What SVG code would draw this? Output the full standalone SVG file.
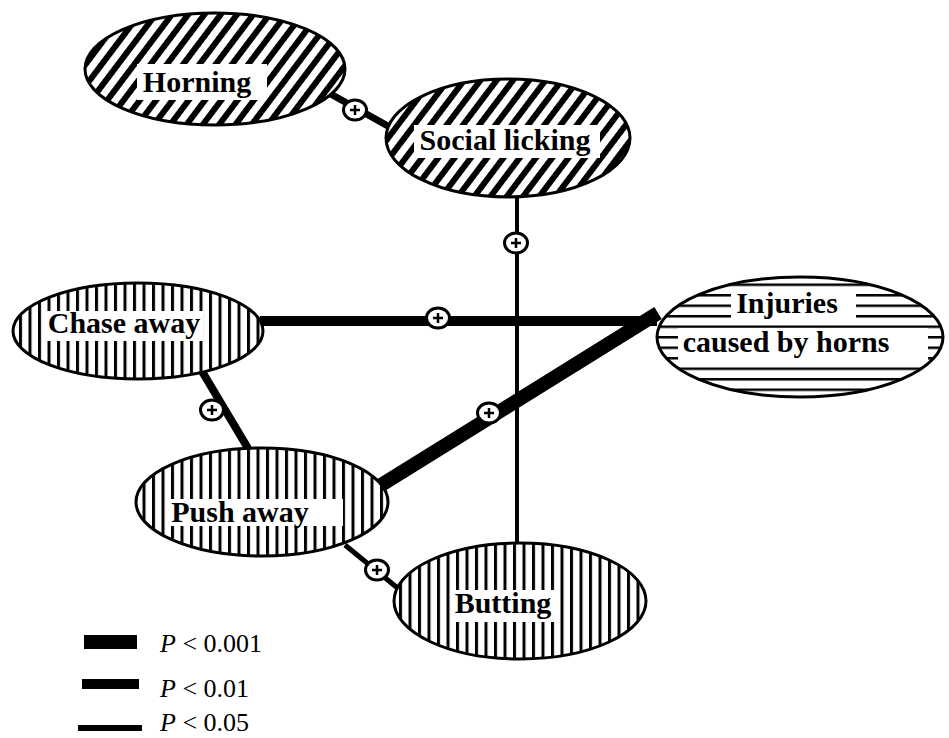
<svg xmlns="http://www.w3.org/2000/svg" width="949" height="738" viewBox="0 0 949 738">
<style>
.node{stroke:#000;stroke-width:3}
.lbl{font-family:"Liberation Serif","Times New Roman",serif;font-weight:bold;font-size:30px;fill:#000;text-anchor:middle}
.leg{font-family:"Liberation Serif","Times New Roman",serif;font-size:26px;fill:#000}
.conn{stroke:#000;stroke-linecap:butt;fill:none}
</style>
<defs>
<pattern id="diag" patternUnits="userSpaceOnUse" width="13" height="13" patternTransform="rotate(37)">
<rect width="13" height="13" fill="#fff"/><rect x="0" y="0" width="6" height="13" fill="#000"/>
</pattern>
<pattern id="vert" patternUnits="userSpaceOnUse" width="9.5" height="10">
<rect width="9.5" height="10" fill="#fff"/><rect x="0" y="0" width="3" height="10" fill="#000"/>
</pattern>
<pattern id="horiz" patternUnits="userSpaceOnUse" width="10" height="10.5">
<rect width="10" height="10.5" fill="#fff"/><rect x="0" y="0" width="10" height="2.5" fill="#000"/>
</pattern>
<g id="plus">
<ellipse cx="0" cy="0" rx="11.5" ry="10" fill="#fff" stroke="#000" stroke-width="3"/>
<path d="M-5 0H5M0 -5V5" stroke="#000" stroke-width="2.5" fill="none"/>
</g>
</defs>
<rect width="949" height="738" fill="#fff"/>
<g id="connectors">
<line class="conn" x1="320" y1="88" x2="395" y2="130" stroke-width="7"/>
<line class="conn" x1="517" y1="195" x2="517" y2="545" stroke-width="4"/>
<line class="conn" x1="260" y1="321" x2="657" y2="321" stroke-width="10"/>
<line class="conn" x1="200" y1="368" x2="252" y2="455" stroke-width="8"/>
<line class="conn" x1="365" y1="495" x2="658" y2="313" stroke-width="14"/>
<line class="conn" x1="345" y1="545" x2="400" y2="590" stroke-width="5"/>
</g>
<g id="horning">
<ellipse class="node" cx="215" cy="69" rx="130" ry="56" fill="url(#diag)"/>
<rect x="137" y="64" width="130" height="36" fill="#fff"/>
<text class="lbl" x="197" y="92">Horning</text>
</g>
<g id="social-licking">
<ellipse class="node" cx="508" cy="138" rx="122" ry="59" fill="url(#diag)"/>
<rect x="414" y="125" width="186" height="33" fill="#fff"/>
<text class="lbl" x="505" y="150">Social licking</text>
</g>
<g id="chase-away">
<ellipse class="node" cx="138" cy="331" rx="125" ry="48" fill="url(#vert)"/>
<rect x="45" y="311" width="158" height="30" fill="#fff"/>
<text class="lbl" x="124" y="333">Chase away</text>
</g>
<g id="injuries">
<ellipse class="node" cx="800" cy="337" rx="143" ry="60" fill="url(#horiz)"/>
<rect x="731" y="291" width="125" height="27" fill="#fff"/>
<rect x="678" y="328" width="250" height="33" fill="#fff"/>
<text class="lbl" x="787" y="313">Injuries</text>
<text class="lbl" x="786" y="352">caused by horns</text>
</g>
<g id="push-away">
<ellipse class="node" cx="262" cy="502" rx="126" ry="54" fill="url(#vert)"/>
<rect x="167" y="499" width="176" height="27" fill="#fff"/>
<text class="lbl" x="240" y="522">Push away</text>
</g>
<g id="butting">
<ellipse class="node" cx="520" cy="601" rx="126" ry="58" fill="url(#vert)"/>
<rect x="454" y="590" width="104" height="32" fill="#fff"/>
<text class="lbl" x="503" y="613">Butting</text>
</g>
<g id="signs">
<use href="#plus" x="355" y="110"/>
<use href="#plus" x="516" y="243"/>
<use href="#plus" x="438" y="318"/>
<use href="#plus" x="212" y="410"/>
<use href="#plus" x="489" y="413"/>
<use href="#plus" x="377" y="570"/>
</g>
<g id="legend">
<rect x="84" y="635" width="53" height="14" fill="#000"/>
<rect x="82" y="679" width="57" height="10" fill="#000"/>
<rect x="78" y="725" width="64" height="6" fill="#000"/>
<text class="leg" x="160" y="652"><tspan font-style="italic">P</tspan> &lt; 0.001</text>
<text class="leg" x="160" y="697"><tspan font-style="italic">P</tspan> &lt; 0.01</text>
<text class="leg" x="160" y="731"><tspan font-style="italic">P</tspan> &lt; 0.05</text>
</g>
</svg>
